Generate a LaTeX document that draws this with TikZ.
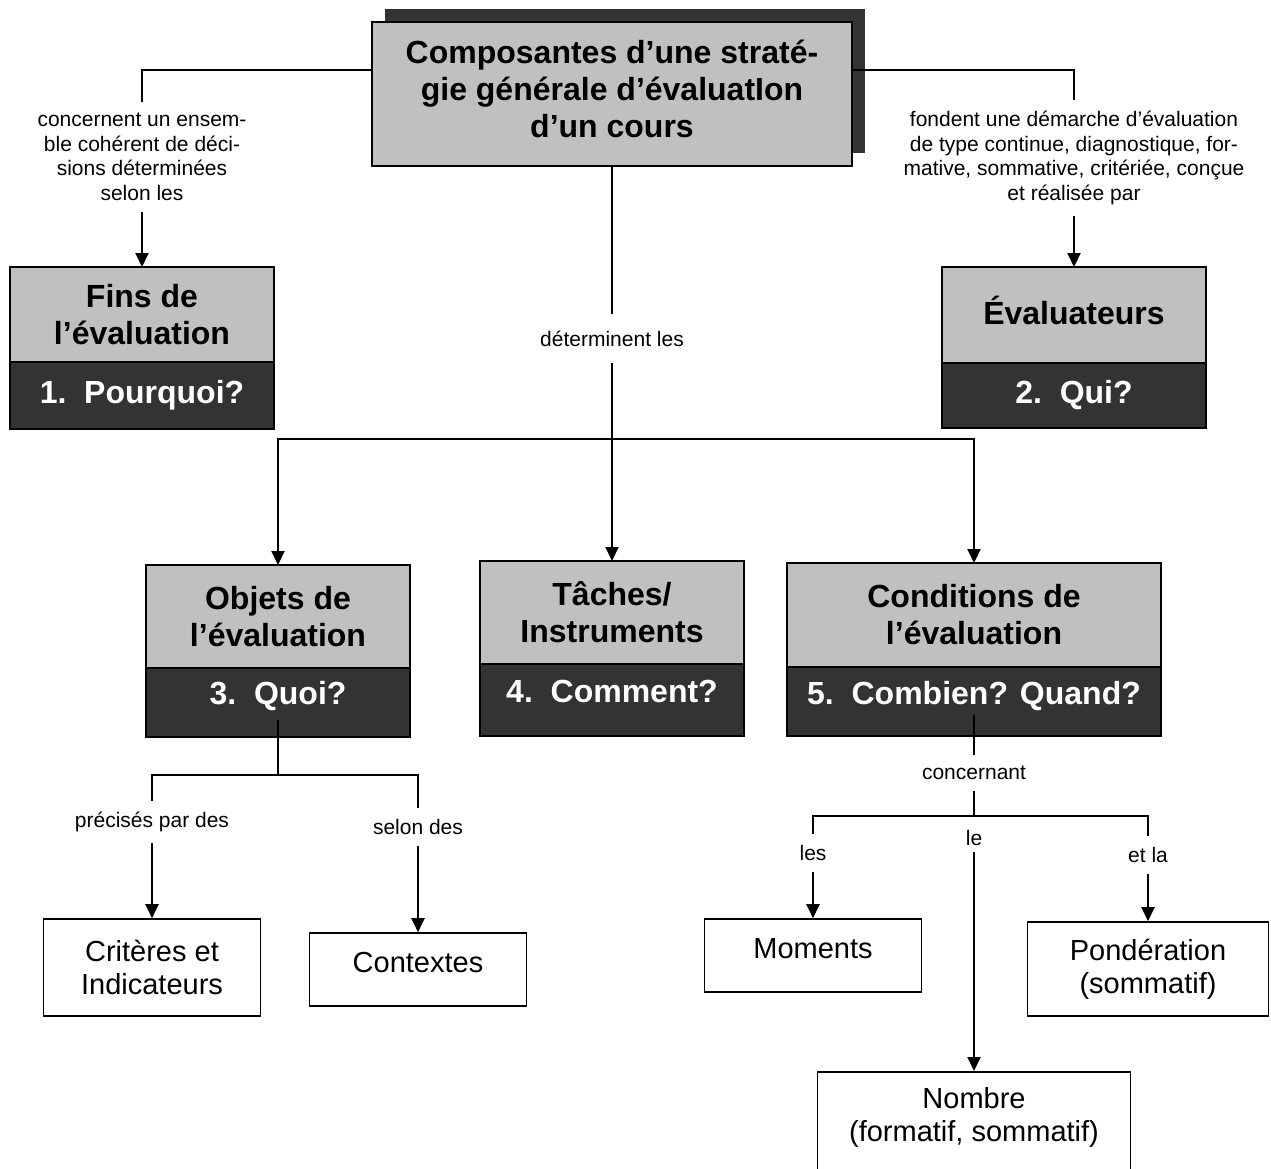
\documentclass[tikz,border=0pt]{standalone}
\usepackage{fontspec}
\setmainfont{Liberation Sans}
\usetikzlibrary{positioning,arrows.meta,shadows}
\definecolor{lgray}{RGB}{192,192,192}
\definecolor{dgray}{RGB}{51,51,51}
\tikzset{
  head/.style={draw, fill=lgray, line width=1.6pt, minimum width=264pt, inner sep=0pt, outer sep=0pt, align=center, font=\fontsize{32}{37}\selectfont\bfseries},
  quest/.style={draw, fill=dgray, text=white, line width=1.6pt, minimum width=264pt, inner sep=0pt, outer sep=0pt, text height=23pt, text depth=7pt, font=\fontsize{32}{37}\selectfont\bfseries},
  leaf/.style={draw, fill=white, line width=1.6pt, inner sep=0pt, align=center, font=\fontsize{29}{33}\selectfont},
  raised/.style={text height=21pt, text depth=15pt},
  lbl/.style={align=center, inner xsep=2pt, inner ysep=11pt, font=\fontsize{21}{24.5}\selectfont},
  link/.style={line width=2pt},
  arr/.style={line width=2pt, -{Triangle[length=14pt,width=13pt]}}
}
\begin{document}
\begin{tikzpicture}[x=1pt,y=-1pt]
  \useasboundingbox (0,0) rectangle (1271,1168);
  % title
  \node[head, text depth=10pt, minimum width=480pt, minimum height=144pt,
        drop shadow={shadow xshift=13pt, shadow yshift=13pt, fill=dgray, opacity=1}]
    (title) at (612,94) {Composantes d'une straté-\\gie générale d'évaluatIon\\d'un cours};
  %
  \node[head, minimum height=95pt] (fins) at (142,314.5) {Fins de\\l'évaluation};
  \node[quest, minimum height=67pt, below=0pt of fins] (finsq) {1.\ \ Pourquoi?};
  %
  \node[head, text depth=10pt, minimum height=96pt] (eval) at (1074,315) {Évaluateurs};
  \node[quest, minimum height=65pt, below=0pt of eval] (evalq) {2.\ \ Qui?};
  %
  \node[head, minimum height=103pt] (obj) at (278,616.5) {Objets de\\l'évaluation};
  \node[quest, minimum height=69pt, text depth=19pt, below=0pt of obj] (objq) {3.\ \ Quoi?};
  %
  \node[head, minimum height=103pt] (tach) at (612,612.5) {Tâches/\\Instruments};
  \node[quest, minimum height=72pt, text depth=19pt, below=0pt of tach] (tachq) {4.\ \ Comment?};
  %
  \node[head, minimum width=374pt, minimum height=104pt] (cond) at (974,615) {Conditions de\\l'évaluation};
  \node[quest, minimum width=374pt, minimum height=69pt, text depth=18pt, below=0pt of cond] (condq) {5.\ \ Combien? Quand?};
  %
  \node[leaf, minimum width=217pt, minimum height=97pt] (crit) at (152,967.5) {Critères et\\Indicateurs};
  \node[leaf, raised, minimum width=217pt, minimum height=73pt] (ctx) at (418,969.5) {Contextes};
  \node[leaf, raised, minimum width=217pt, minimum height=73pt] (moments) at (813,955.5) {Moments};
  \node[leaf, minimum width=241pt, minimum height=94pt] (pond) at (1148,969) {Pondération\\(sommatif)};
  \node[leaf, text depth=15pt, minimum width=313pt, minimum height=100pt, anchor=north] (nombre) at (974,1071) {Nombre\\(formatif, sommatif)};
  %
  \node[lbl] (lblfins) at (142,157) {concernent un ensem-\\ble cohérent de déci-\\sions déterminées\\selon les};
  \node[lbl] (lbleval) at (1074,158) {fondent une démarche d'évaluation\\de type continue, diagnostique, for-\\mative, sommative, critériée, conçue\\et réalisée par};
  \node[lbl, inner ysep=16pt] (lbldet) at (612,338.5) {déterminent les};
  \node[lbl] (lblcrit) at (152,822) {précisés par des};
  \node[lbl] (lblctx) at (418,827) {selon des};
  \node[lbl] (lblcond) at (974,773) {concernant};
  \node[lbl] (lblles) at (813,853) {les};
  \node[lbl, inner ysep=6pt] (lblle) at (974,838) {le};
  \node[lbl] (lbletla) at (1148,855) {et la};
  \coordinate (hub) at (612,439);
  \coordinate (objfork) at (278,775);
  \coordinate (condfork) at (974,816);
  %
  \draw[link] ([yshift=24pt]title.west) -| (lblfins.north);
  \draw[arr] (lblfins.south) -- (fins.north);
  \draw[link] ([yshift=24pt]title.east) -| (lbleval.north);
  \draw[arr] (lbleval.south) -- (eval.north);
  \draw[link] (title.south) -- (lbldet.north);
  \draw[arr] (lbldet.south) -- (tach.north);
  \draw[arr] (hub) -| (obj.north);
  \draw[arr] (hub) -| (cond.north);
  %
  \draw[link] ([yshift=17pt]objq.south) -- (objfork);
  \draw[link] (lblcrit.north) |- (objfork) -| (lblctx.north);
  \draw[arr] (lblcrit.south) -- (crit.north);
  \draw[arr] (lblctx.south) -- (ctx.north);
  %
  \draw[link] ([yshift=21pt]condq.south) -- (lblcond.north);
  \draw[link] (lblcond.south) -- (condfork);
  \draw[link] (lblles.north) |- (condfork) -| (lbletla.north);
  \draw[arr] (lblles.south) -- (moments.north);
  \draw[arr] (lblle.south) -- (nombre.north);
  \draw[arr] (lbletla.south) -- (pond.north);
\end{tikzpicture}
\end{document}
